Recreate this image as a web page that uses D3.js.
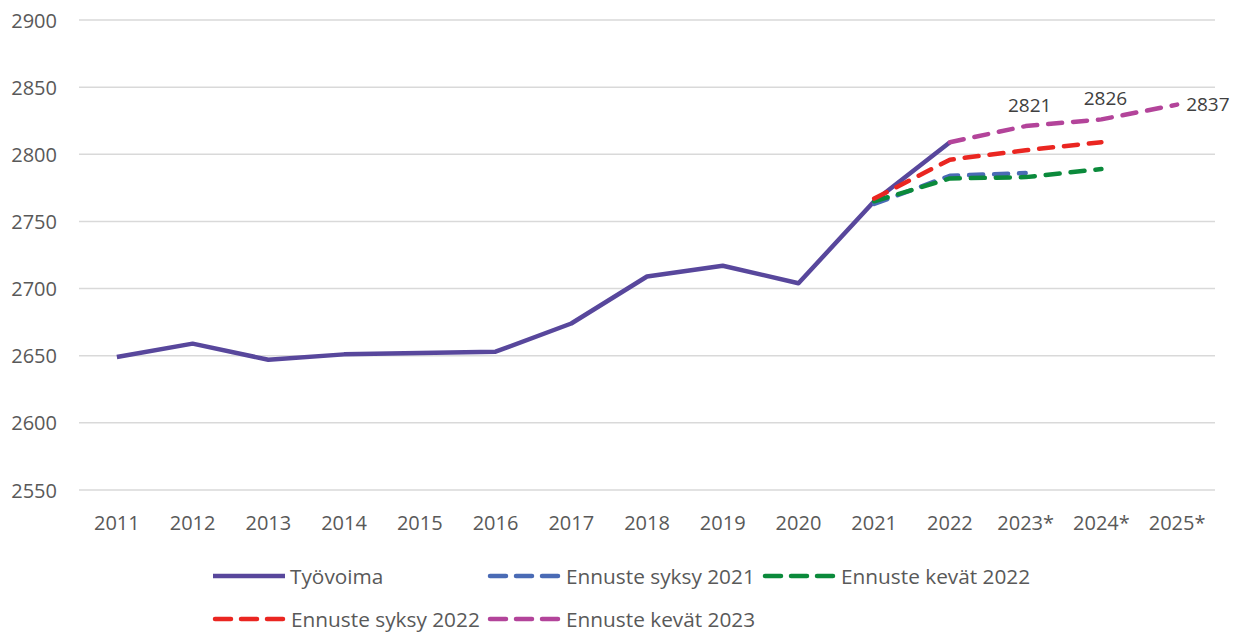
<!DOCTYPE html>
<html>
<head>
<meta charset="utf-8">
<script src="https://cdn.jsdelivr.net/npm/d3@7"></script>
<style>
  body { margin: 0; background: #fff; }
  text { font-family: "Open Sans", sans-serif; }
</style>
</head>
<body>
<div id="chart"></div>
<script>
const years = ["2011", "2012", "2013", "2014", "2015", "2016", "2017", "2018", "2019", "2020", "2021", "2022", "2023*", "2024*", "2025*"];
const tyovoima = [2649, 2659, 2647, 2651, 2652, 2653, 2674, 2709, 2717, 2704, 2765, 2809, null, null, null];
const syksy2021 = [null, null, null, null, null, null, null, null, null, null, 2763, 2784, 2786, null, null];
const kevat2022 = [null, null, null, null, null, null, null, null, null, null, 2765, 2782, 2783, 2789, null];
const syksy2022 = [null, null, null, null, null, null, null, null, null, null, 2767, 2796, 2803, 2809, null];
const kevat2023 = [null, null, null, null, null, null, null, null, null, null, null, 2809, 2821, 2826, 2837];
const yTicks = [2550, 2600, 2650, 2700, 2750, 2800, 2850, 2900];

const width = 1235;
const height = 632;
const margin = ({top: 20, right: 20, bottom: 142, left: 79});

const series = [
    {name: "Työvoima", values: tyovoima, color: "#58479c", dash: null},
    {name: "Ennuste syksy 2021", values: syksy2021, color: "#4a6bb5", dash: "14,11"},
    {name: "Ennuste kevät 2022", values: kevat2022, color: "#0b8a3b", dash: "14,11"},
    {name: "Ennuste syksy 2022", values: syksy2022, color: "#ea2621", dash: "14,11"},
    {name: "Ennuste kevät 2023", values: kevat2023, color: "#b3449a", dash: "14,11"}
];

const svg = d3.select("#chart")
    .append("svg")
    .attr("width", width)
    .attr("height", height);

const x = d3.scalePoint()
    .domain(years)
    .range([margin.left, width - margin.right])
    .padding(0.5);

const y = d3.scaleLinear()
    .domain([2550, 2900])
    .range([height - margin.bottom, margin.top]);

// gridlines
svg.append("g")
    .selectAll("line")
    .data(yTicks)
    .join("line")
    .attr("x1", margin.left)
    .attr("x2", width - margin.right)
    .attr("y1", d => y(d))
    .attr("y2", d => y(d))
    .attr("stroke", "#d9d9d9")
    .attr("stroke-width", 1.5);

// y labels
svg.append("g")
    .selectAll("text")
    .data(yTicks)
    .join("text")
    .attr("x", 57)
    .attr("y", d => y(d))
    .attr("text-anchor", "end")
    .attr("dominant-baseline", "central")
    .attr("fill", "#595959")
    .attr("font-size", "20px")
    .text(d => d);

// x labels
svg.append("g")
    .selectAll("text")
    .data(years)
    .join("text")
    .attr("x", d => x(d))
    .attr("y", 522)
    .attr("text-anchor", "middle")
    .attr("dominant-baseline", "central")
    .attr("fill", "#595959")
    .attr("font-size", "20px")
    .text(d => d);

const line = d3.line()
    .defined(d => d.v != null)
    .x(d => x(d.year))
    .y(d => y(d.v));

svg.append("g")
    .selectAll("path")
    .data(series)
    .join("path")
    .attr("d", s => line(s.values.map((v, i) => ({year: years[i], v}))))
    .attr("fill", "none")
    .attr("stroke", s => s.color)
    .attr("stroke-width", 4.5)
    .attr("stroke-linecap", s => s.dash ? "round" : "butt")
    .attr("stroke-linejoin", "round")
    .attr("stroke-dasharray", s => s.dash);

// data labels for kevät 2023
const labelIdx = [12, 13, 14];
svg.append("g")
    .selectAll("text")
    .data(labelIdx)
    .join("text")
    .attr("x", i => i === 14 ? x(years[i]) + 9 : x(years[i]) + 4)
    .attr("y", i => i === 14 ? y(kevat2023[i]) - 1 : y(kevat2023[i]) - 21)
    .attr("text-anchor", i => i === 14 ? "start" : "middle")
    .attr("dominant-baseline", "central")
    .attr("fill", "#404040")
    .attr("font-size", "19px")
    .text(i => kevat2023[i]);

// legend
const legendPos = [
    {x: 213, y: 576},
    {x: 488, y: 576},
    {x: 763, y: 576},
    {x: 213, y: 619},
    {x: 488, y: 619}
];

const legend = svg.append("g")
    .selectAll("g")
    .data(series)
    .join("g")
    .attr("transform", (d, i) => `translate(${legendPos[i].x},${legendPos[i].y})`);

legend.append("line")
    .attr("x1", d => d.dash ? 2 : 0)
    .attr("x2", d => d.dash ? 70 : 72)
    .attr("stroke", d => d.color)
    .attr("stroke-width", 4.5)
    .attr("stroke-linecap", d => d.dash ? "round" : "butt")
    .attr("stroke-dasharray", d => d.dash ? "16,10" : null);

legend.append("text")
    .attr("x", d => d.dash ? 78 : 77)
    .attr("dominant-baseline", "central")
    .attr("fill", "#595959")
    .attr("font-size", "20.8px")
    .text(d => d.name);
</script>
</body>
</html>
